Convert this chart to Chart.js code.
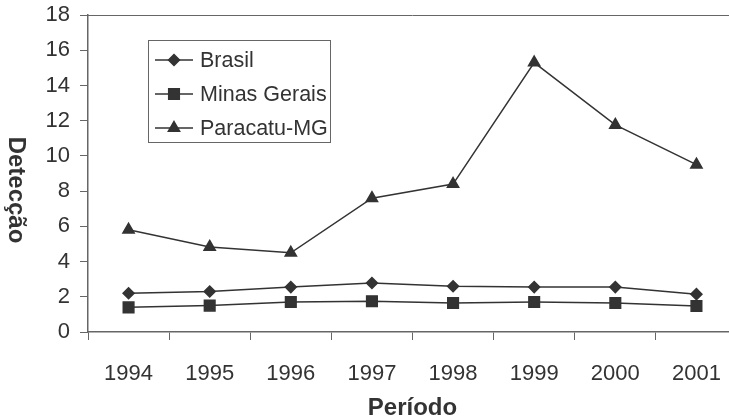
<!DOCTYPE html>
<html lang="pt-BR">
<head>
    <meta charset="UTF-8">
    <title>Detecção por período</title>
    <script src="https://cdn.jsdelivr.net/npm/chart.js"></script>
    <style>
        html, body { margin: 0; padding: 0; background: #fff; overflow: hidden; }
        .wrap { width: 729px; height: 419px; overflow: hidden; position: relative; }
        .inner { position: absolute; left: 0; top: 0; width: 737px; height: 419px; }
        canvas { display: block; width: 737px; height: 419px; }
    </style>
</head>
<body>
    <div class="wrap">
        <div class="inner">
            <canvas id="grafico" width="737" height="419"></canvas>
        </div>
    </div>

<script>
// Dados
const periodos = ['1994', '1995', '1996', '1997', '1998', '1999', '2000', '2001'];
const brasil = [2.2, 2.3, 2.55, 2.78, 2.6, 2.55, 2.55, 2.15];
const minasGerais = [1.4, 1.5, 1.7, 1.75, 1.65, 1.7, 1.65, 1.48];
const paracatu = [5.8, 4.83, 4.5, 7.6, 8.4, 15.3, 11.76, 9.5];
const ticksY = [0, 2, 4, 6, 8, 10, 12, 14, 16, 18];

const cor = '#333333';
const corEixo = '#666666';
const fonte = '"Liberation Sans", Arial, sans-serif';

// Títulos dos eixos e a legenda dentro da área do gráfico
const extras = {
    id: 'extras',
    afterDraw(chart) {
        const ctx = chart.ctx;
        const area = chart.chartArea;
        ctx.save();

        // linha superior
        ctx.strokeStyle = corEixo;
        ctx.lineWidth = 1;
        ctx.beginPath();
        ctx.moveTo(area.left, area.top + 0.5);
        ctx.lineTo(chart.width, area.top + 0.5);
        ctx.stroke();

        ctx.fillStyle = cor;
        ctx.font = 'bold 24px ' + fonte;
        ctx.textAlign = 'center';
        ctx.textBaseline = 'middle';
        ctx.fillText('Período', (area.left + area.right) / 2, 408);

        ctx.translate(16, 190);
        ctx.rotate(Math.PI / 2);
        ctx.fillText('Detecção', 0, 0);
        ctx.restore();

        // legenda
        ctx.save();
        ctx.strokeStyle = corEixo;
        ctx.lineWidth = 1;
        ctx.strokeRect(148.5, 40.5, 182, 102);
        ctx.font = '21.5px ' + fonte;
        ctx.textAlign = 'left';
        ctx.textBaseline = 'middle';
        chart.data.datasets.forEach((ds, i) => {
            const y = 60 + i * 34;
            ctx.strokeStyle = cor;
            ctx.lineWidth = 1.5;
            ctx.beginPath();
            ctx.moveTo(155, y);
            ctx.lineTo(193, y);
            ctx.stroke();
            ctx.fillStyle = cor;
            Chart.helpers.drawPoint(ctx, {
                pointStyle: ds.pointStyle,
                radius: ds.pointRadius,
                rotation: 0,
                borderWidth: 1
            }, 174, y);
            ctx.fillStyle = cor;
            ctx.fillText(ds.label, 200, y + 1);
        });
        ctx.restore();
    }
};

function serie(label, dados, estilo, raio) {
    return {
        label: label,
        data: dados,
        borderColor: cor,
        backgroundColor: cor,
        borderWidth: 1.5,
        pointStyle: estilo,
        pointRadius: raio,
        pointHoverRadius: raio,
        pointBackgroundColor: cor,
        pointBorderColor: cor,
        tension: 0
    };
}

new Chart(document.getElementById('grafico'), {
    type: 'line',
    data: {
        labels: periodos,
        datasets: [
            serie('Brasil', brasil, 'rectRot', 5.5),
            serie('Minas Gerais', minasGerais, 'rect', 7.5),
            serie('Paracatu-MG', paracatu, 'triangle', 6.5)
        ]
    },
    options: {
        responsive: false,
        animation: false,
        layout: { autoPadding: false, padding: { top: 15, right: 0, left: 0, bottom: 0 } },
        plugins: {
            legend: { display: false },
            tooltip: { enabled: false }
        },
        scales: {
            x: {
                offset: true,
                afterFit: (s) => { s.height = 87; s.paddingLeft = 0; s.paddingRight = 0; },
                grid: {
                    offset: true,
                    drawOnChartArea: false,
                    tickLength: 8,
                    tickColor: corEixo
                },
                border: { color: corEixo, width: 1.5 },
                ticks: {
                    color: cor,
                    font: { family: fonte, size: 22 },
                    padding: 21,
                    maxRotation: 0
                }
            },
            y: {
                min: 0,
                max: 18,
                afterFit: (s) => { s.width = 88; s.paddingTop = 0; s.paddingBottom = 0; },
                afterBuildTicks: (s) => { s.ticks = ticksY.map(v => ({ value: v })); },
                grid: {
                    drawOnChartArea: false,
                    tickLength: 8,
                    tickColor: corEixo
                },
                border: { color: corEixo, width: 1.5 },
                ticks: {
                    color: cor,
                    font: { family: fonte, size: 22 },
                    padding: 10
                }
            }
        }
    },
    plugins: [extras]
});
</script>
</body>
</html>
